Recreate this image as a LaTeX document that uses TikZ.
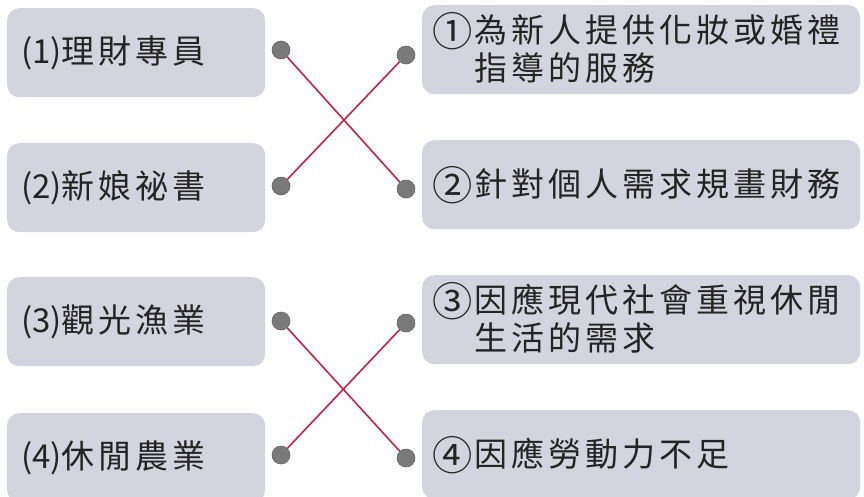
\documentclass[tikz,border=0pt]{standalone}
\usepackage{fontspec}
\newfontfamily\cjk[LetterSpace=12]{Noto Sans CJK TC}
\newfontfamily\cjkflat{Noto Sans CJK TC}
\newcommand{\cnum}[1]{\raisebox{-0.1em}{\scalebox{1.22}{\cjkflat #1}}\hspace{2pt}}
\newcommand{\pnum}[1]{{\cjkflat(#1)}}
\definecolor{boxgray}{RGB}{212,212,223}
\definecolor{dotgray}{RGB}{122,122,122}
\definecolor{linkred}{RGB}{200,32,78}
\definecolor{inkgray}{RGB}{36,36,36}

\begin{document}
\begin{tikzpicture}[x=1pt, y=-1pt,
  card/.style={fill=boxgray, rounded corners=12pt, anchor=north west, minimum height=89pt, align=left, text=inkgray, font=\cjk\fontsize{33}{38}\selectfont},
  leftcard/.style={card, text width=230pt, inner xsep=14pt},
  rightcard/.style={card, text width=418pt, inner xsep=10pt},
  dot/.style={circle, inner sep=0pt, minimum size=18pt, fill=dotgray, draw=dotgray!80!black, line width=0.6pt},
  link/.style={linkred, line width=1.6pt}]
\useasboundingbox (0,0) rectangle (864,496);
% jobs on the left:
\node (q1) at (7,8) [leftcard] {\pnum{1}理財專員};
\node (q2) at (7,143) [leftcard] {\pnum{2}新娘祕書};
\node (q3) at (7,277) [leftcard] {\pnum{3}觀光漁業};
\node (q4) at (7,413) [leftcard] {\pnum{4}休閒農業};
% descriptions on the right:
\node (a1) at (422,5) [rightcard] {\cnum{①}為新人提供化妝或婚禮\\\phantom{\cnum{①}}指導的服務};
\node (a2) at (422,140) [rightcard] {\cnum{②}針對個人需求規畫財務};
\node (a3) at (422,275) [rightcard] {\cnum{③}因應現代社會重視休閒\\\phantom{\cnum{③}}生活的需求};
\node (a4) at (422,410) [rightcard] {\cnum{④}因應勞動力不足};
% dots:
\node (qdot1) at (281,50) [dot] {};
\node (qdot2) at (281,186) [dot] {};
\node (qdot3) at (281,321) [dot] {};
\node (qdot4) at (281,455) [dot] {};
\node (adot1) at (406,55) [dot] {};
\node (adot2) at (406,189) [dot] {};
\node (adot3) at (406,323) [dot] {};
\node (adot4) at (406,458) [dot] {};
% matching lines:
\draw[link] (qdot1) -- (adot2);
\draw[link] (qdot2) -- (adot1);
\draw[link] (qdot3) -- (adot4);
\draw[link] (qdot4) -- (adot3);
\end{tikzpicture}
\end{document}
